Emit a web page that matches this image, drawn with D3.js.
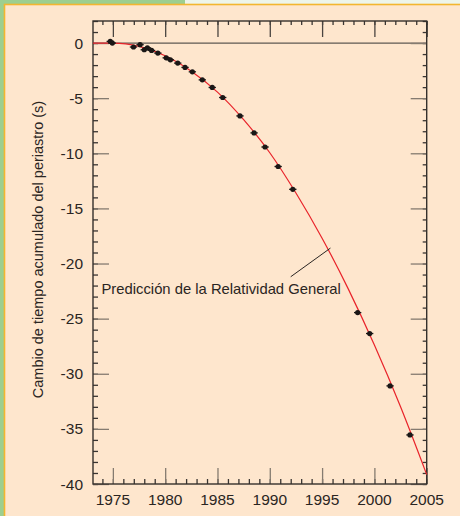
<!DOCTYPE html>
<html>
<head>
<meta charset="utf-8">
<script src="https://cdn.jsdelivr.net/npm/d3@7"></script>
<style>
  body { margin: 0; background: #eef5ea; }
  svg { display: block; font-family: "Liberation Sans", Arial, sans-serif; }
</style>
</head>
<body>
<svg width="460" height="516"></svg>
<script>
// measured periastron shift (year, seconds)
const obsYears = [1974.75, 1974.95, 1976.97, 1977.6, 1978.0, 1978.3, 1978.7, 1979.3, 1980.1, 1980.5,
  1981.2, 1981.9, 1982.6, 1983.55, 1984.5, 1985.5, 1987.15, 1988.5, 1989.55, 1990.8,
  1992.2, 1998.4, 1999.55, 2001.5, 2003.4];
const obsShift = [0.15, 0.0, -0.36, -0.15, -0.61, -0.43, -0.67, -0.91, -1.34, -1.52,
  -1.82, -2.21, -2.61, -3.34, -4.03, -4.94, -6.61, -8.15, -9.43, -11.2,
  -13.27, -24.45, -26.35, -31.1, -35.55];
const obsErr = [0.35, 0.35, 0.35, 0.35, 0.35, 0.35, 0.35, 0.35, 0.35, 0.35,
  0.35, 0.35, 0.35, 0.35, 0.35, 0.35, 0.35, 0.35, 0.35, 0.35,
  0.35, 0.35, 0.35, 0.35, 0.35];

// general relativity prediction
const grYears = [1973.1, 1975, 1977.5, 1980, 1982.5, 1985, 1987.5, 1990, 1992.5, 1995, 1997.5, 2000, 2002.5, 2005];
const grShift = [0, 0, -0.3, -1.15, -2.55, -4.45, -6.95, -9.95, -13.6, -17.7, -22.3, -27.4, -33.0, -39.15];

const xMajor = [1975, 1980, 1985, 1990, 1995, 2000, 2005];
const yMajor = [0, -5, -10, -15, -20, -25, -30, -35, -40];
const xMinor = d3.range(1974, 2006, 1);
const yMinor = d3.range(2, -41, -1);

const yTitle = 'Cambio de tiempo acumulado del periastro (s)';
const noteText = 'Predicción de la Relatividad General';

const svg = d3.select('svg');
const W = 460, H = 516;

// page frame
svg.append('rect').attr('x', 0).attr('y', 0).attr('width', W).attr('height', H).attr('fill', '#eef5ea');
svg.append('rect').attr('x', 0).attr('y', 0).attr('width', 185).attr('height', 5).attr('fill', '#9dcf90');
svg.append('rect').attr('x', 0).attr('y', 0).attr('width', 4).attr('height', H).attr('fill', '#9dcf90');
svg.append('rect').attr('x', 4.5).attr('y', 4.5).attr('width', W).attr('height', H)
  .attr('fill', '#fee6cd').attr('stroke', '#f3b630').attr('stroke-width', 1.6);

const pLeft = 93, pRight = 426.7, pTop = 21, pBottom = 484;
const x = d3.scaleLinear().domain([1973.1, 2005]).range([pLeft, pRight]);
const y = d3.scaleLinear().domain([2, -40]).range([pTop, pBottom]);

const majorCol = '#857b70', minorCol = '#3a3532';

const g = svg.append('g');

const styleAxis = (sel, col) => {
  sel.select('.domain').remove();
  sel.selectAll('.tick line').attr('stroke', col).attr('stroke-width', 1.3);
  sel.selectAll('.tick text').remove();
};

// minor ticks
g.append('g').attr('transform', `translate(${pLeft},0)`)
  .call(d3.axisLeft(y).tickValues(yMinor).tickSize(-5)).call(styleAxis, minorCol);
g.append('g').attr('transform', `translate(${pRight},0)`)
  .call(d3.axisRight(y).tickValues(yMinor).tickSize(-4)).call(styleAxis, minorCol);
g.append('g').attr('transform', `translate(0,${pBottom})`)
  .call(d3.axisBottom(x).tickValues(xMinor).tickSize(-5)).call(styleAxis, minorCol);
g.append('g').attr('transform', `translate(0,${pTop})`)
  .call(d3.axisTop(x).tickValues(xMinor).tickSize(-4)).call(styleAxis, minorCol);

// zero line
g.append('line').attr('x1', pLeft).attr('x2', pRight).attr('y1', y(0)).attr('y2', y(0))
  .attr('stroke', '#5e5852').attr('stroke-width', 1.2);

// major ticks
g.append('g').attr('transform', `translate(${pLeft},0)`)
  .call(d3.axisLeft(y).tickValues(yMajor).tickSize(-16)).call(styleAxis, majorCol);
g.append('g').attr('transform', `translate(${pRight},0)`)
  .call(d3.axisRight(y).tickValues(yMajor).tickSize(-16)).call(styleAxis, majorCol);
g.append('g').attr('transform', `translate(0,${pBottom})`)
  .call(d3.axisBottom(x).tickValues(xMajor).tickSize(-16)).call(styleAxis, majorCol);
g.append('g').attr('transform', `translate(0,${pTop})`)
  .call(d3.axisTop(x).tickValues(xMajor).tickSize(-16)).call(styleAxis, '#4a4440');

// frame
g.append('rect').attr('x', pLeft).attr('y', pTop).attr('width', pRight - pLeft).attr('height', pBottom - pTop)
  .attr('fill', 'none').attr('stroke', '#35302c').attr('stroke-width', 1.4);

// tick labels
g.selectAll('text.ylab').data(yMajor).join('text')
  .attr('class', 'ylab')
  .attr('x', pLeft - 10).attr('y', d => y(d)).attr('dy', '0.36em')
  .attr('text-anchor', 'end').attr('font-size', 15.5).attr('fill', '#2a2522')
  .text(d => d);
g.selectAll('text.xlab').data(xMajor).join('text')
  .attr('class', 'xlab')
  .attr('x', d => x(d)).attr('y', 504.5)
  .attr('text-anchor', 'middle').attr('font-size', 15.5).attr('fill', '#2a2522')
  .text(d => d);

// y title
svg.append('text')
  .attr('transform', 'translate(42.5,249.5) rotate(-90)')
  .attr('text-anchor', 'middle').attr('font-size', 14.5).attr('fill', '#2a2522')
  .text(yTitle);

// GR curve
const gr = grYears.map((yr, i) => [yr, grShift[i]]);
g.append('path').datum(gr)
  .attr('d', d3.line().x(d => x(d[0])).y(d => y(d[1])).curve(d3.curveMonotoneX))
  .attr('fill', 'none').attr('stroke', '#e8232a').attr('stroke-width', 1.2);

// annotation
g.append('line')
  .attr('x1', x(1992.0)).attr('y1', y(-21.2)).attr('x2', x(1995.8)).attr('y2', y(-18.6))
  .attr('stroke', '#2a2522').attr('stroke-width', 1);
g.append('text').attr('x', 101.5).attr('y', 294).attr('font-size', 14.8).attr('fill', '#2a2522')
  .text(noteText);

// observations
const obs = obsYears.map((yr, i) => ({ yr, v: obsShift[i], e: obsErr[i] }));
const pts = g.append('g').selectAll('g').data(obs).join('g');
pts.append('line')
  .attr('x1', d => x(d.yr - d.e)).attr('x2', d => x(d.yr + d.e))
  .attr('y1', d => y(d.v)).attr('y2', d => y(d.v))
  .attr('stroke', '#1a1716').attr('stroke-width', 1.3);
pts.append('circle')
  .attr('cx', d => x(d.yr)).attr('cy', d => y(d.v)).attr('r', 2.6)
  .attr('fill', '#1a1716');
</script>
</body>
</html>
